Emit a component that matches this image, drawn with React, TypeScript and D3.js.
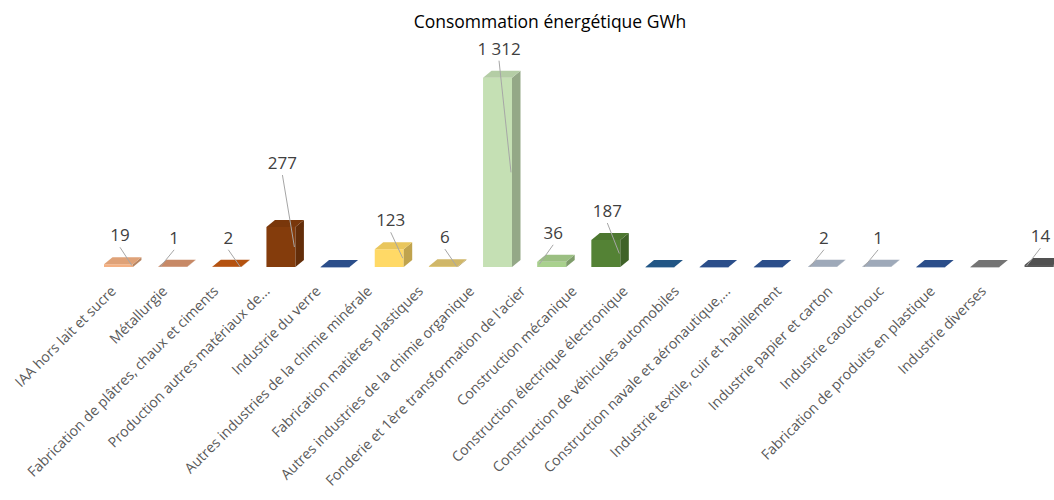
import React from "react";
import * as d3 from "d3";

const title = "Consommation énergétique GWh";

const categories = [
  "IAA hors lait et sucre",
  "Métallurgie",
  "Fabrication de plâtres, chaux et ciments",
  "Production autres matériaux de...",
  "Industrie du verre",
  "Autres industries de la chimie minérale",
  "Fabrication matières plastiques",
  "Autres industries de la chimie organique",
  "Fonderie et 1ère transformation de l'acier",
  "Construction mécanique",
  "Construction électrique électronique",
  "Construction de véhicules automobiles",
  "Construction navale et aéronautique,...",
  "Industrie textile, cuir et habillement",
  "Industrie papier et carton",
  "Industrie caoutchouc",
  "Fabrication de produits en plastique",
  "Industrie diverses",
];

const values = [19, 1, 2, 277, 0, 123, 6, 1312, 36, 187, 0, 0, 0, 2, 1, 0, 0, 14];

const colors = [
  "#F4B183", "#DA9670", "#C55A11", "#843C0C", "#2F5597", "#FFD966",
  "#E3C872", "#C5E0B4", "#A9D18E", "#548235", "#255E91", "#2F5597",
  "#2F5597", "#ADB9CA", "#ADB9CA", "#2F5597", "#7F7F7F", "#595959",
];

// label layout tweaks (styling, not data)
const labelExtraLift: Record<number, number> = { 3: 35 };
const leaderToLeft = new Set([1, 8, 13, 14, 17]);

const W = 1054;
const H = 500;
const BASE = 267;
const DX = 8.5;
const DY = -7;
const fmt = (v: number) => d3.format(",")(v).replace(/,/g, " ");

export default function App() {
  const x = d3
    .scaleBand<string>()
    .domain(categories)
    .range([91.4, 91.4 + 54.15 * categories.length])
    .paddingInner(0.465)
    .paddingOuter(0.2325);
  const xl = d3
    .scalePoint<string>()
    .domain(categories)
    .range([117, 987]);
  const y = d3.scaleLinear().domain([0, 1312]).range([BASE, 77.7]);
  const bw = x.bandwidth();

  return (
    <svg
      width={W}
      height={H}
      style={{ position: "absolute", left: 0, top: 0, background: "#fff" }}
      fontFamily="'Open Sans', sans-serif"
    >
      <text x={550} y={28} textAnchor="middle" fontSize={17.5} fill="#000">
        {title}
      </text>
      {categories.map((c, i) => {
        const v = values[i];
        const x0 = x(c)!;
        const x1 = x0 + bw;
        const top = y(v);
        const col = d3.color(colors[i])!;
        const topCol = col.darker(0.25).formatHex();
        const sideCol = col.darker(0.8).formatHex();
        const frontPath = `M${x0},${top}H${x1}V${BASE}H${x0}Z`;
        const topPath = `M${x0},${top}L${x0 + DX},${top + DY}H${x1 + DX}L${x1},${top}Z`;
        const sidePath = `M${x1},${top}L${x1 + DX},${top + DY}V${BASE + DY}L${x1},${BASE}Z`;
        return (
          <g key={c}>
            {v > 0 && <path d={frontPath} fill={colors[i]} />}
            {v > 0 && <path d={sidePath} fill={sideCol} />}
            <path d={topPath} fill={topCol} />
            {v === 0 && (
              <line x1={x0} x2={x1} y1={BASE + 0.5} y2={BASE + 0.5} stroke={colors[i]} strokeOpacity={0.4} />
            )}
          </g>
        );
      })}
      {categories.map((c, i) => {
        const v = values[i];
        if (v === 0) return null;
        const x0 = x(c)!;
        const cx = x0 + bw / 2 + 1.5;
        const top = y(v);
        const baseline = top - 23 - (labelExtraLift[i] || 0);
        const mid = (top + BASE) / 2;
        const ex = leaderToLeft.has(i) ? x0 + 2 : x0 + bw - 1;
        return (
          <g key={"l" + c}>
            <line x1={cx} y1={baseline + 6} x2={ex} y2={mid} stroke="#A6A6A6" strokeWidth={1} />
            <text x={cx} y={baseline} textAnchor="middle" fontSize={17} fill="#404040">
              {fmt(v)}
            </text>
          </g>
        );
      })}
      {categories.map((c) => {
        const px = xl(c)!;
        const py = 292;
        return (
          <text
            key={"a" + c}
            x={px}
            y={py}
            textAnchor="end"
            fontSize={14.2}
            fill="#595959"
            transform={`rotate(-45 ${px} ${py})`}
          >
            {c}
          </text>
        );
      })}
    </svg>
  );
}
